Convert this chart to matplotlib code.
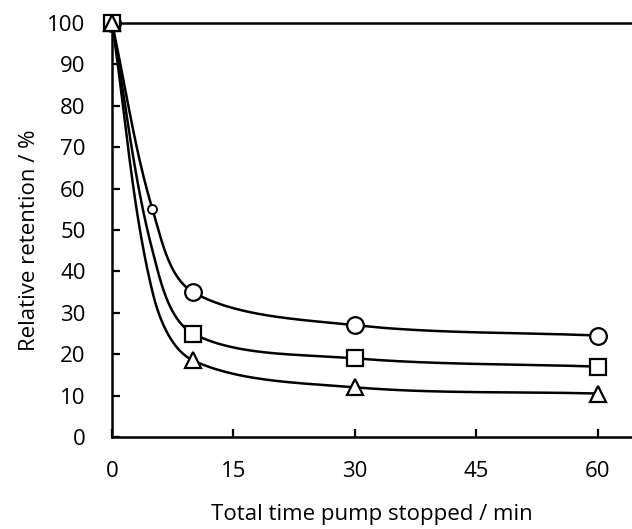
import numpy as np
import matplotlib
matplotlib.use('Agg')
import matplotlib.pyplot as plt

plt.rcParams['font.family'] = ['Open Sans', 'DejaVu Sans']

# time (min) and relative retention (%)
time_circle = [0, 5, 10, 30, 60]
ret_circle = [100, 55, 35, 27, 24.5]
time_square = [0, 5, 10, 30, 60]
ret_square = [100, 45, 25, 19, 17]
time_triangle = [0, 5, 10, 30, 60]
ret_triangle = [100, 35, 18.5, 12, 10.5]

# which points get a full size marker (the 5 min point is only drawn for circles, small)
big_marker_idx = [0, 2, 3, 4]

x_ticks = [0, 15, 30, 45, 60]
y_ticks = [0, 10, 20, 30, 40, 50, 60, 70, 80, 90, 100]


def smooth(ax, xs, ys, n=80):
    # spreadsheet style smoothed line, built in screen space:
    # bezier segments, tangents scaled by chord lengths
    pts = ax.transData.transform(np.column_stack([xs, ys]).astype(float))
    d = np.hypot(*np.diff(pts, axis=0).T)
    out = []
    for i in range(len(pts) - 1):
        p1 = pts[i]
        p2 = pts[i + 1]
        if i > 0:
            c1 = p1 + (p2 - pts[i - 1]) * d[i] / (d[i - 1] + d[i]) / 3.0
        else:
            c1 = p1 + (p2 - p1) / 3.0
        if i + 2 < len(pts):
            c2 = p2 - (pts[i + 2] - p1) * d[i] / (d[i] + d[i + 1]) / 3.0
        else:
            c2 = p2 - (p2 - p1) / 3.0
        t = np.linspace(0, 1, n)[:, None]
        seg = ((1 - t) ** 3) * p1 + 3 * ((1 - t) ** 2) * t * c1 + 3 * (1 - t) * t ** 2 * c2 + t ** 3 * p2
        out.append(seg)
    out = ax.transData.inverted().transform(np.vstack(out))
    return out[:, 0], out[:, 1]


fig = plt.figure(figsize=(6.32, 5.29), dpi=100)
ax = fig.add_axes([112 / 632, 1 - 437 / 529, 1 - 112 / 632, (437 - 23) / 529])
ax.set_xlim(0, 64.2)
ax.set_ylim(0, 100)

lw = 1.8
for xs, ys in [(time_circle, ret_circle), (time_square, ret_square), (time_triangle, ret_triangle)]:
    sx, sy = smooth(ax, xs, ys)
    ax.plot(sx, sy, color='black', lw=lw, clip_on=False, zorder=2)

ax.plot([time_circle[i] for i in big_marker_idx], [ret_circle[i] for i in big_marker_idx],
        ls='none', marker='o', ms=12, mfc='white', mec='black', mew=1.6, clip_on=False, zorder=3)
ax.plot(time_circle[1], ret_circle[1], ls='none', marker='o', ms=6.5, mfc='white', mec='black',
        mew=1.3, clip_on=False, zorder=3)
ax.plot([time_square[i] for i in big_marker_idx], [ret_square[i] for i in big_marker_idx],
        ls='none', marker='s', ms=11, mfc='white', mec='black', mew=1.6, clip_on=False, zorder=4)
ax.plot([time_triangle[i] for i in big_marker_idx], [ret_triangle[i] for i in big_marker_idx],
        ls='none', marker='^', ms=12, mfc='white', mec='black', mew=1.6, clip_on=False, zorder=5)

ax.set_xticks(x_ticks)
ax.set_yticks(y_ticks)

ax.spines['right'].set_visible(False)
for s in ['left', 'bottom', 'top']:
    ax.spines[s].set_linewidth(1.8)
ax.tick_params(direction='in', length=6, width=1.6, labelsize=16, pad=19)
ax.tick_params(axis='x', pad=17)

ax.set_xlabel('Total time pump stopped / min', fontsize=16, labelpad=16)
ax.set_ylabel('Relative retention / %', fontsize=16, labelpad=5, y=0.475)

plt.savefig('out.png', dpi=100)
